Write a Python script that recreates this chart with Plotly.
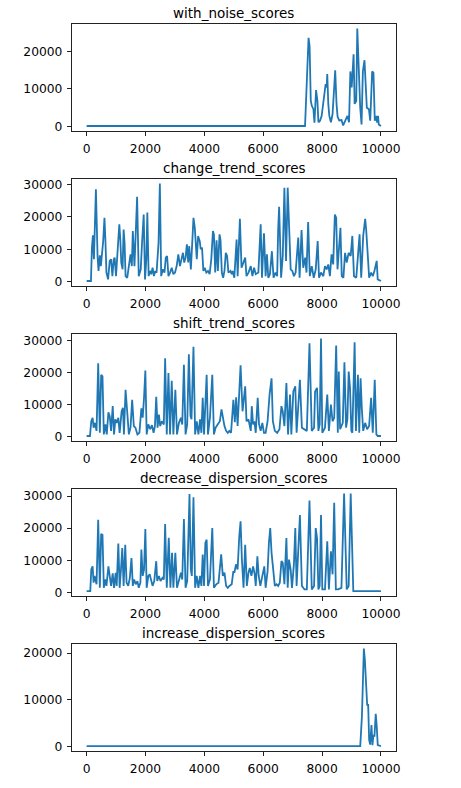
import plotly.graph_objects as go

# anomaly scores per scenario (x = sample index)
with_noise_x = [0, 7420, 7540, 7575, 7615, 7650, 7705, 7740, 7795, 7840, 7875, 7930, 7985, 8065, 8120,
                8155, 8175, 8210, 8245, 8300, 8355, 8410, 8445, 8490, 8525, 8580, 8660, 8715, 8805, 8860,
                8915, 8960, 9005, 9070, 9105, 9160, 9195, 9240, 9295, 9340, 9385, 9440, 9485, 9520, 9590,
                9635, 9700, 9745, 9790, 9835, 9870, 9900, 9925, 9999]
with_noise_y = [100, 100, 23700, 21500, 6900, 5500, 4600, 1000, 9700, 6900, 1100, 1500, 2800, 7700, 11300,
                10400, 14000, 6000, 2800, 1100, 3300, 10400, 15000, 6000, 2600, 1600, 1700, 250, 1600, 2800,
                1100, 14700, 10400, 19300, 6000, 6800, 26200, 14700, 5000, 500, 14700, 17700, 10400, 5000, 4600,
                1500, 14700, 14300, 1500, 2800, 1000, 2800, 500, 100]

change_trend_x = [0, 147, 180, 214, 248, 315, 371, 404, 449, 483, 561, 606, 640, 673, 729, 785, 830, 875,
                  920, 953, 998, 1065, 1110, 1144, 1177, 1222, 1256, 1289, 1323, 1379, 1435, 1491, 1536,
                  1569, 1625, 1715, 1771, 1838, 1883, 1939, 1984, 2028, 2062, 2107, 2152, 2196, 2241, 2286,
                  2331, 2376, 2443, 2488, 2533, 2589, 2645, 2689, 2734, 2779, 2835, 2891, 2947, 3003, 3059,
                  3115, 3171, 3227, 3272, 3316, 3361, 3406, 3451, 3485, 3541, 3597, 3630, 3675, 3709, 3742,
                  3787, 3843, 3877, 3921, 3966, 4011, 4067, 4123, 4179, 4235, 4291, 4324, 4369, 4414, 4459,
                  4515, 4548, 4593, 4638, 4683, 4728, 4772, 4817, 4885, 4929, 4961, 5017, 5095, 5130, 5207,
                  5263, 5319, 5387, 5431, 5499, 5577, 5633, 5689, 5745, 5834, 5913, 5958, 6025, 6081, 6126,
                  6171, 6227, 6294, 6350, 6417, 6473, 6507, 6540, 6607, 6663, 6719, 6775, 6831, 6887, 6932,
                  6988, 7044, 7100, 7190, 7235, 7302, 7358, 7425, 7470, 7526, 7582, 7649, 7716, 7783, 7850,
                  7895, 7963, 8041, 8097, 8153, 8209, 8265, 8321, 8377, 8433, 8478, 8523, 8567, 8623, 8668,
                  8724, 8780, 8836, 8903, 8970, 9027, 9083, 9161, 9217, 9273, 9329, 9396, 9463, 9497, 9553,
                  9598, 9665, 9721, 9777, 9822, 9855, 9889, 9999]
change_trend_y = [200, 200, 10500, 14300, 6900, 28500, 7900, 3300, 8100, 4800, 12300, 19700, 12300, 2800,
                  700, 6400, 6900, 1700, 6900, 7400, 1700, 10400, 17700, 13100, 5900, 3800, 16100, 12000,
                  1700, 1200, 4800, 8400, 4800, 15600, 4800, 26200, 1700, 3800, 12000, 20700, 700, 6900,
                  21300, 1700, 3300, 2300, 4300, 1700, 3300, 2800, 12000, 30300, 1700, 3800, 2800, 7400,
                  7900, 1700, 2800, 4300, 2300, 2800, 4800, 8400, 4800, 6900, 8900, 5900, 7400, 11500, 5900,
                  11000, 3800, 13600, 19700, 16600, 10400, 6900, 14100, 12500, 10000, 10500, 3300, 4300,
                  2800, 3300, 2300, 6900, 15600, 14600, 2800, 12800, 3300, 14600, 13000, 2800, 1200, 3300,
                  8900, 7900, 2800, 3300, 2300, 3300, 1200, 13000, 1700, 19400, 4300, 5900, 7400, 1700, 2800,
                  4800, 1700, 4300, 2300, 2800, 17700, 1200, 14900, 1700, 8400, 1200, 2300, 9400, 1200,
                  2800, 1700, 16100, 23100, 1200, 7900, 29000, 6400, 29000, 14600, 3800, 3300, 1700, 2800,
                  13600, 1200, 15900, 4300, 7400, 2800, 18400, 1700, 4800, 1200, 3800, 12500, 1200, 2800,
                  1700, 4800, 3800, 5300, 1700, 8400, 5300, 20700, 19700, 3800, 8900, 16600, 1700, 1200,
                  8900, 5900, 8900, 7900, 14100, 1700, 1200, 7900, 14600, 1200, 14100, 19400, 16100, 7900,
                  1200, 2800, 1700, 3300, 5900, 6400, 700, 200]

shift_trend_x = [0, 113, 158, 203, 236, 281, 337, 393, 449, 494, 539, 584, 640, 684, 740, 785, 830, 886,
                 931, 976, 1021, 1077, 1122, 1189, 1234, 1267, 1323, 1379, 1435, 1491, 1547, 1603, 1658,
                 1726, 1793, 1860, 1905, 1950, 1995, 2040, 2096, 2163, 2219, 2275, 2320, 2365, 2410, 2455,
                 2499, 2555, 2623, 2667, 2723, 2779, 2835, 2891, 2947, 3014, 3070, 3137, 3204, 3249, 3305,
                 3361, 3417, 3473, 3529, 3563, 3630, 3686, 3742, 3798, 3854, 3899, 3944, 3989, 4033, 4078,
                 4123, 4190, 4269, 4325, 4381, 4459, 4526, 4582, 4627, 4683, 4739, 4795, 4851, 4907, 4985,
                 5035, 5080, 5129, 5230, 5297, 5387, 5431, 5499, 5577, 5611, 5655, 5700, 5745, 5812, 5857,
                 5913, 5969, 6025, 6081, 6148, 6215, 6283, 6327, 6394, 6473, 6551, 6619, 6663, 6719, 6787,
                 6843, 6910, 6955, 7022, 7089, 7134, 7246, 7313, 7403, 7481, 7571, 7649, 7727, 7761, 7828,
                 7873, 7918, 7963, 8007, 8097, 8175, 8231, 8299, 8355, 8411, 8478, 8534, 8567, 8612, 8702,
                 8758, 8814, 8859, 8903, 8948, 8993, 9027, 9105, 9150, 9217, 9262, 9307, 9351, 9396, 9463,
                 9530, 9597, 9665, 9721, 9788, 9844, 9889, 9999]
shift_trend_y = [200, 200, 4800, 5900, 2800, 4300, 1800, 22900, 1200, 19300, 18800, 700, 3800, 700, 7600,
                 6400, 1800, 9500, 700, 5400, 4300, 5900, 1200, 7900, 9000, 700, 14600, 6400, 700, 2800,
                 11500, 3300, 2800, 700, 1200, 8800, 5900, 12100, 20600, 700, 3800, 2300, 3600, 1200, 3300,
                 12400, 2800, 6900, 3300, 4800, 3800, 24400, 700, 19800, 700, 17400, 700, 14600, 700, 4300,
                 5900, 3800, 22400, 700, 3800, 25700, 6400, 5400, 28000, 700, 4800, 700, 5400, 1200, 12100,
                 700, 12100, 19300, 700, 5900, 19300, 700, 2800, 3800, 4800, 8500, 5900, 3300, 1800, 1200,
                 1800, 1200, 11500, 4500, 12300, 3300, 22200, 7900, 15700, 4800, 5400, 1800, 9500, 3800,
                 4800, 1200, 12100, 3800, 1800, 4300, 1200, 1200, 4800, 13100, 18200, 4800, 1800, 1200,
                 2300, 9500, 7900, 3300, 16700, 700, 13100, 700, 14100, 15700, 1200, 17700, 2800, 2300,
                 1800, 29100, 1800, 2800, 14100, 15200, 1800, 3800, 30600, 1200, 2800, 13100, 1800, 10000,
                 4800, 5900, 28400, 1200, 20300, 2300, 4300, 23200, 2800, 5400, 20300, 15200, 1800, 1200,
                 29400, 1800, 19300, 1200, 18200, 8500, 1800, 4300, 2300, 3300, 12100, 1200, 17700, 700,
                 200, 200]

decrease_disp_x = [0, 124, 158, 203, 236, 270, 337, 393, 449, 494, 539, 584, 628, 673, 740, 785, 830, 886,
                   931, 987, 1021, 1077, 1122, 1167, 1211, 1256, 1312, 1357, 1413, 1468, 1524, 1569, 1614,
                   1670, 1726, 1771, 1827, 1860, 1905, 1950, 1995, 2040, 2096, 2141, 2196, 2241, 2297, 2365,
                   2398, 2455, 2511, 2578, 2623, 2667, 2723, 2790, 2846, 2902, 2947, 3014, 3070, 3137, 3204,
                   3249, 3305, 3361, 3417, 3495, 3540, 3574, 3630, 3686, 3742, 3798, 3854, 3899, 3944, 3989,
                   4033, 4078, 4123, 4190, 4269, 4325, 4403, 4481, 4571, 4627, 4683, 4739, 4795, 4851, 4929,
                   4985, 5019, 5075, 5129, 5185, 5230, 5275, 5331, 5387, 5443, 5499, 5543, 5599, 5655, 5711,
                   5745, 5801, 5846, 5902, 5969, 6036, 6081, 6148, 6193, 6238, 6283, 6339, 6394, 6451, 6507,
                   6563, 6619, 6663, 6719, 6787, 6831, 6876, 6932, 6977, 7044, 7089, 7134, 7246, 7313, 7403,
                   7481, 7571, 7649, 7727, 7783, 7828, 7873, 7918, 7963, 8007, 8097, 8175, 8231, 8299, 8355,
                   8411, 8467, 8545, 8657, 8747, 8836, 8903, 8971, 9060, 9999]
decrease_disp_y = [400, 400, 7100, 8100, 3000, 5100, 2500, 22600, 1400, 18200, 17900, 1400, 4000, 2000,
                   8100, 5600, 2000, 5900, 1400, 6100, 2000, 15200, 1400, 7100, 13800, 2000, 14800, 3000,
                   2000, 4500, 10700, 2000, 4000, 2500, 3500, 1400, 3000, 13300, 5100, 7100, 19700, 1400,
                   5100, 5600, 3000, 2000, 3500, 9700, 3500, 5100, 3500, 4500, 4000, 21300, 1400, 17000,
                   1400, 12300, 1400, 12300, 1400, 4000, 6100, 4000, 22800, 1400, 3500, 30600, 7100, 5100,
                   29600, 1400, 5100, 1400, 5100, 2000, 11800, 2000, 15400, 16400, 2000, 4000, 20000, 1400,
                   2500, 3000, 11800, 5100, 6100, 2000, 1400, 2000, 2500, 6600, 6100, 8700, 7100, 17400,
                   22100, 10200, 1400, 14800, 2000, 6100, 7600, 5100, 8100, 5600, 2000, 11200, 5100, 2000,
                   5100, 8100, 1400, 6600, 15400, 20000, 12300, 7600, 2000, 2500, 2000, 3000, 9700, 9200,
                   2500, 16900, 1400, 10200, 7100, 1400, 9000, 20000, 2000, 24100, 2000, 900, 900, 28600,
                   900, 2000, 20000, 16900, 900, 2000, 24100, 900, 900, 15900, 900, 12800, 5600, 27900, 900,
                   900, 1400, 30800, 900, 2000, 30800, 400, 400]

increase_disp_x = [0, 9296, 9352, 9419, 9453, 9475, 9498, 9531, 9565, 9598, 9632, 9677, 9710, 9744, 9778,
                   9822, 9856, 9890, 9999]
increase_disp_y = [100, 100, 6400, 21000, 18500, 15000, 15000, 8900, 8900, 1400, 400, 4600, 300, 2500, 2100,
                   7000, 4300, 300, 100]

titles = ["with_noise_scores", "change_trend_scores", "shift_trend_scores",
          "decrease_dispersion_scores", "increase_dispersion_scores"]
series = [(with_noise_x, with_noise_y), (change_trend_x, change_trend_y), (shift_trend_x, shift_trend_y),
          (decrease_disp_x, decrease_disp_y), (increase_disp_x, increase_disp_y)]
x_ticks = [0, 2000, 4000, 6000, 8000, 10000]
y_ticks = [0, 10000, 20000, 30000]

W, H = 461, 788
left, right = 72.7, 400.0       # axes box, px from left
top0, step, box_h = 22.7, 156.0, 108.0

fig = go.Figure()
font = dict(family="DejaVu Sans", size=12.3, color="black")

for i, (title, (xs, ys)) in enumerate(zip(titles, series)):
    n = "" if i == 0 else str(i + 1)
    top = top0 + step * i
    bot = top + box_h
    dom_y = [1 - bot / H, 1 - top / H]

    fig.add_trace(go.Scatter(x=xs, y=ys, mode="lines", xaxis="x" + n, yaxis="y" + n,
                             line=dict(color="#1f77b4", width=1.8), showlegend=False))

    # matplotlib-like 5% margins
    xspan = max(xs) - min(xs)
    yspan = max(ys) - min(ys)
    axis_common = dict(showline=True, mirror=True, linecolor="#222", linewidth=1, ticks="outside",
                       ticklen=4, tickwidth=1, tickcolor="#222", showgrid=False, zeroline=False,
                       tickfont=font, tickformat="d", ticklabelstandoff=2)
    fig.layout["xaxis" + n] = dict(domain=[left / W, right / W], anchor="y" + n,
                                   range=[min(xs) - 0.05 * xspan, max(xs) + 0.05 * xspan],
                                   tickvals=x_ticks, **axis_common)
    fig.layout["yaxis" + n] = dict(domain=dom_y, anchor="x" + n,
                                   range=[min(ys) - 0.05 * yspan, max(ys) + 0.05 * yspan],
                                   tickvals=[t for t in y_ticks if t <= max(ys) * 1.05], **axis_common)

    fig.add_annotation(text=title, xref="paper", yref="paper", x=(left + right) / 2 / W, y=dom_y[1],
                       xanchor="center", yanchor="bottom", yshift=1, showarrow=False,
                       font=dict(family="DejaVu Sans", size=13.5, color="black"))

fig.update_layout(width=W, height=H, margin=dict(l=0, r=0, t=0, b=0),
                  paper_bgcolor="white", plot_bgcolor="white")

fig.write_html("out.html", config={"displayModeBar": False},
               post_script="document.body.style.margin='0';")
